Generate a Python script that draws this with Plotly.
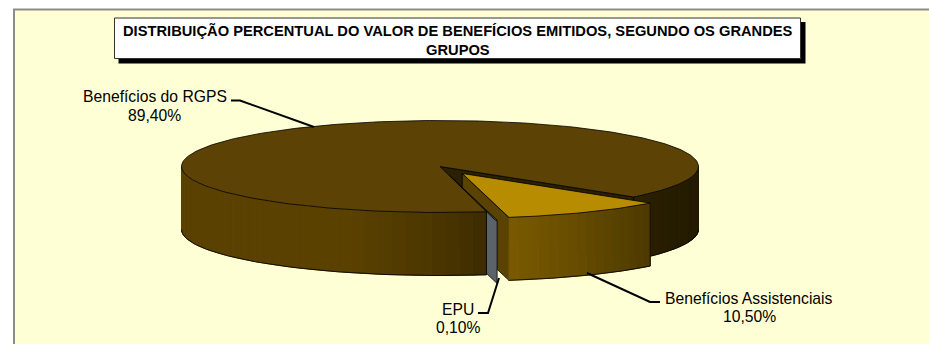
import numpy as np
import plotly.graph_objects as go

# ---- data ----
categories = ["Benefícios Assistenciais", "EPU", "Benefícios do RGPS"]
values = [10.5, 0.1, 89.4]
value_labels = ["10,50%", "0,10%", "89,40%"]
title_lines = ["DISTRIBUIÇÃO PERCENTUAL DO VALOR DE BENEFÍCIOS EMITIDOS, SEGUNDO OS GRANDES", "GRUPOS"]

# ---- pie projection ----
CX, CY, K, DEPTH = 440.0, 166.5, 46 / 258.5, 63.0
START = 41.5
EXPLODE = {"Benefícios Assistenciais": 45.0, "EPU": 50.0, "Benefícios do RGPS": 0.0}
RADIUS = {"Benefícios Assistenciais": 251.0, "EPU": 258.5, "Benefícios do RGPS": 258.5}
BG = "#FFFFD5"

spans = {}
a = START
for c, v in zip(categories, values):
    spans[c] = (a, a + v * 3.6)
    a += v * 3.6


def offset(c):
    a0, a1 = spans[c]
    m = np.radians((a0 + a1) / 2)
    return EXPLODE[c] * np.cos(m), EXPLODE[c] * np.sin(m)


def pt(c, ang, r=None, z=0.0):
    r = RADIUS[c] if r is None else r
    ox, oy = offset(c)
    t = np.radians(ang)
    return CX + ox + r * np.cos(t), CY + (oy + r * np.sin(t)) * K + z


def shade(x, stops):
    xs = [s[0] for s in stops]
    rgb = [np.interp(x, xs, [s[1][i] for s in stops]) for i in range(3)]
    return "rgb(%d,%d,%d)" % tuple(int(round(v)) for v in rgb)


fig = go.Figure()


def poly(xs, ys, fill, line=None, width=1):
    fig.add_trace(go.Scatter(
        x=list(xs), y=list(ys), mode="lines", fill="toself", fillcolor=fill,
        line=dict(color=line or fill, width=width), hoverinfo="skip", showlegend=False))


def outline(xs, ys, width=0.8):
    fig.add_trace(go.Scatter(
        x=list(xs), y=list(ys), mode="lines", line=dict(color="#000000", width=width),
        hoverinfo="skip", showlegend=False))


def rim(c, a0, a1, stops, n=None):
    n = n or max(2, int(abs(a1 - a0) / 3))
    edges = np.linspace(a0, a1, n + 1)
    for e0, e1 in zip(edges[:-1], edges[1:]):
        arc = np.linspace(e0, e1, 5)
        top = [pt(c, t) for t in arc]
        bot = [pt(c, t, z=DEPTH) for t in arc[::-1]]
        xs = [p[0] for p in top + bot]
        ys = [p[1] for p in top + bot]
        poly(xs + xs[:1], ys + ys[:1], shade(np.mean(xs), stops))
    arc = np.linspace(a0, a1, 80)
    b = [pt(c, t, z=DEPTH) for t in arc]
    outline([p[0] for p in b], [p[1] for p in b])
    e = pt(c, a0), pt(c, a0, z=DEPTH)
    outline([e[0][0], e[1][0]], [e[0][1], e[1][1]])


def wall(c, ang, color):
    o = pt(c, ang, r=0)
    e = pt(c, ang)
    xs = [o[0], e[0], e[0], o[0], o[0]]
    ys = [o[1], e[1], e[1] + DEPTH, o[1] + DEPTH, o[1]]
    poly(xs, ys, color, "#000000", 0.8)


def top_face(c, a0, a1, color):
    arc = np.linspace(a0, a1, max(40, int(abs(a1 - a0))))
    o = pt(c, 0, r=0)
    p = [pt(c, t) for t in arc]
    xs = [o[0]] + [q[0] for q in p] + [o[0]]
    ys = [o[1]] + [q[1] for q in p] + [o[1]]
    poly(xs, ys, color, "#000000", 0.8)


RGPS, EPU, ASSIST = categories[2], categories[1], categories[0]
a0_main, a1_main = spans[RGPS]

# back of the big slice: cut wall and dark right rim
wall(RGPS, a1_main, "#2B2000")
rim(RGPS, START, 0, [(633, (44, 33, 0)), (698, (34, 26, 0))])

# exploded assistential slice
wall(ASSIST, spans[ASSIST][1], "#5A4200")
rim(ASSIST, spans[ASSIST][0], spans[ASSIST][1],
    [(506, (122, 90, 0)), (560, (108, 80, 0)), (652, (76, 57, 0))], n=16)
top_face(ASSIST, spans[ASSIST][0], spans[ASSIST][1], "#B88C00")

# exploded EPU slice
wall(EPU, spans[EPU][0], "#5B6269")
top_face(EPU, spans[EPU][0], spans[EPU][1], "#6B737B")

# big slice front
rim(RGPS, a0_main, 180,
    [(181, (90, 65, 2)), (350, (90, 65, 0)), (430, (76, 55, 0)), (486, (60, 44, 0))])
top_face(RGPS, a0_main, a1_main, "#5C4204")

# leader lines
leaders = [
    ([231, 240, 314], [100.5, 100.5, 127]),
    ([660, 650, 587], [302, 302, 273]),
    ([478, 488, 499], [313, 313, 278]),
]
for lx, ly in leaders:
    outline(lx, ly, width=2)

shapes = [
    dict(type="rect", x0=-5, x1=14, y0=-5, y1=350, fillcolor="#FFFFFF", line_width=0, layer="below"),
    dict(type="rect", x0=14, x1=940, y0=9.5, y1=350, fillcolor=BG,
         line=dict(color="#8C8C8C", width=2), layer="below"),
    dict(type="rect", x0=118.5, x1=805.5, y0=22, y1=63.5, fillcolor="#000000", line_width=0, layer="below"),
    dict(type="rect", x0=114.5, x1=800.5, y0=18, y1=58.5, fillcolor="#FFFFFF",
         line=dict(color="#333333", width=1), layer="below"),
]

FONT = "Liberation Sans, Arial, sans-serif"


def text(x, y, s, size=15.7, bold=False):
    fig.add_annotation(x=x, y=y, text=("<b>%s</b>" % s) if bold else s, showarrow=False,
                       xanchor="center", yanchor="middle", xref="x", yref="y",
                       font=dict(family=FONT, size=size, color="#000000"))


text(457.5, 30, title_lines[0], size=14.7, bold=True)
text(457.5, 50, title_lines[1], size=14.7, bold=True)
text(154.5, 96, categories[2])
text(154.5, 115, value_labels[2])
text(749, 298, categories[0])
text(749, 316, value_labels[0])
text(457.5, 309, categories[1])
text(458, 327, value_labels[1])

fig.update_layout(
    width=929, height=344, margin=dict(l=0, r=0, t=0, b=0),
    paper_bgcolor="#FFFFFF", plot_bgcolor="#FFFFFF", shapes=shapes, showlegend=False,
    xaxis=dict(range=[0, 929], visible=False, fixedrange=True),
    yaxis=dict(range=[344, 0], visible=False, fixedrange=True),
)
fig.write_html("out.html", post_script="document.body.style.margin='0';",
               config=dict(displayModeBar=False))
